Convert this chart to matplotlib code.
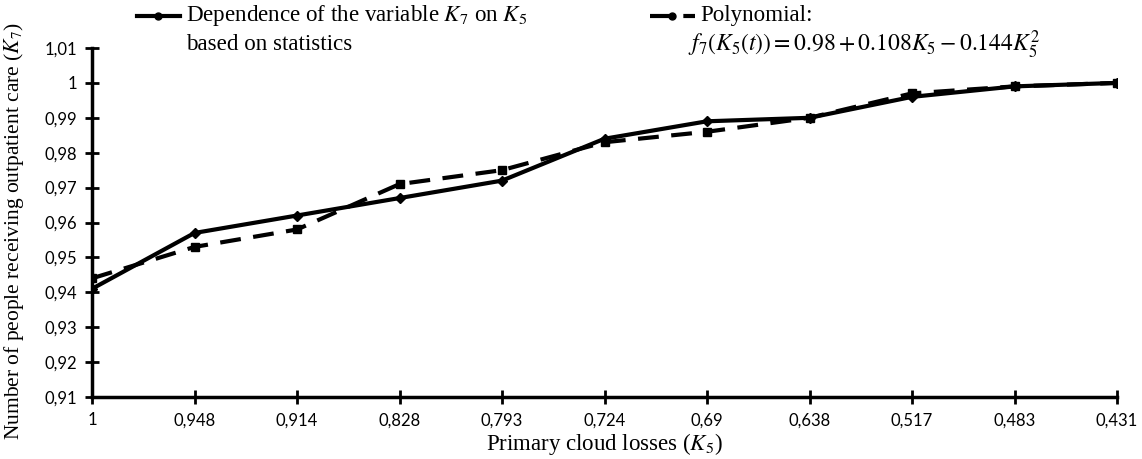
import matplotlib.pyplot as plt
from matplotlib.lines import Line2D

# x categories (K5 values) and the two series
k5_labels = ["1", "0,948", "0,914", "0,828", "0,793", "0,724", "0,69", "0,638", "0,517", "0,483", "0,431"]
k7_stat = [0.941, 0.957, 0.962, 0.967, 0.972, 0.984, 0.989, 0.990, 0.996, 0.999, 1.000]
k7_poly = [0.944, 0.953, 0.958, 0.971, 0.975, 0.983, 0.986, 0.990, 0.997, 0.999, 1.000]
y_ticks = [0.91, 0.92, 0.93, 0.94, 0.95, 0.96, 0.97, 0.98, 0.99, 1.00, 1.01]
y_tick_labels = ["0,91", "0,92", "0,93", "0,94", "0,95", "0,96", "0,97", "0,98", "0,99", "1", "1,01"]

plt.rcParams['mathtext.fontset'] = 'stix'
serif = "Liberation Serif"
sans = "Lato"
W, H = 1142, 459

fig = plt.figure(figsize=(W / 100, H / 100), dpi=100)
ax = fig.add_axes([92 / W, 1 - 397 / H, (1117 - 92) / W, (397 - 48) / H])

x = list(range(len(k5_labels)))
ax.plot(x, k7_stat, color='black', lw=3, marker='D', markersize=5)
ax.plot(x, k7_poly, color='black', lw=3, ls=(0, (5, 3)), marker='s', markersize=6)

ax.set_xlim(0, len(k5_labels) - 1)
ax.set_ylim(0.91, 1.01)
ax.set_xticks(x)
ax.set_xticklabels(k5_labels, family=sans, fontsize=12)
ax.set_yticks(y_ticks)
ax.set_yticklabels(y_tick_labels, family=sans, fontsize=12)
ax.tick_params(axis='both', direction='inout', length=10, width=2, pad=6)

for side in ['top', 'right']:
    ax.spines[side].set_visible(False)
for side in ['left', 'bottom']:
    ax.spines[side].set_linewidth(2.5)

ax.set_xlabel(r"Primary cloud losses ($K_5$)", family=serif, fontsize=16.5, labelpad=2)
ax.set_ylabel(r"Number of people receiving outpatient care ($K_7$)", family=serif, fontsize=15.5)
ax.yaxis.set_label_coords(-0.064, 0.475)

# legend drawn by hand at the top
ly = 1 - 16 / H
fig.add_artist(Line2D([137 / W, 158 / W, 180 / W], [ly] * 3, color='black', lw=3,
                      marker='o', markersize=5, markevery=[1], transform=fig.transFigure))
fig.add_artist(Line2D([650 / W, 672 / W, 695 / W], [ly] * 3, color='black', lw=3,
                      ls=(0, (5, 3)), marker='o', markersize=5, markevery=[1], transform=fig.transFigure))

fig.text(186 / W, ly, r"Dependence of the variable $K_7$ on $K_5$", family=serif,
         fontsize=16.6, va='center', ha='left')
fig.text(186 / W, 1 - 45 / H, "based on statistics", family=serif, fontsize=16.6, va='center', ha='left')
fig.text(700 / W, ly, "Polynomial:", family=serif, fontsize=16.6, va='center', ha='left')
fig.text(688 / W, 1 - 45 / H, r"$f_7(K_5(t)) = 0.98 + 0.108K_5 - 0.144K_5^2$", family=serif,
         fontsize=17, va='center', ha='left')

fig.savefig("out.png", dpi=100)
